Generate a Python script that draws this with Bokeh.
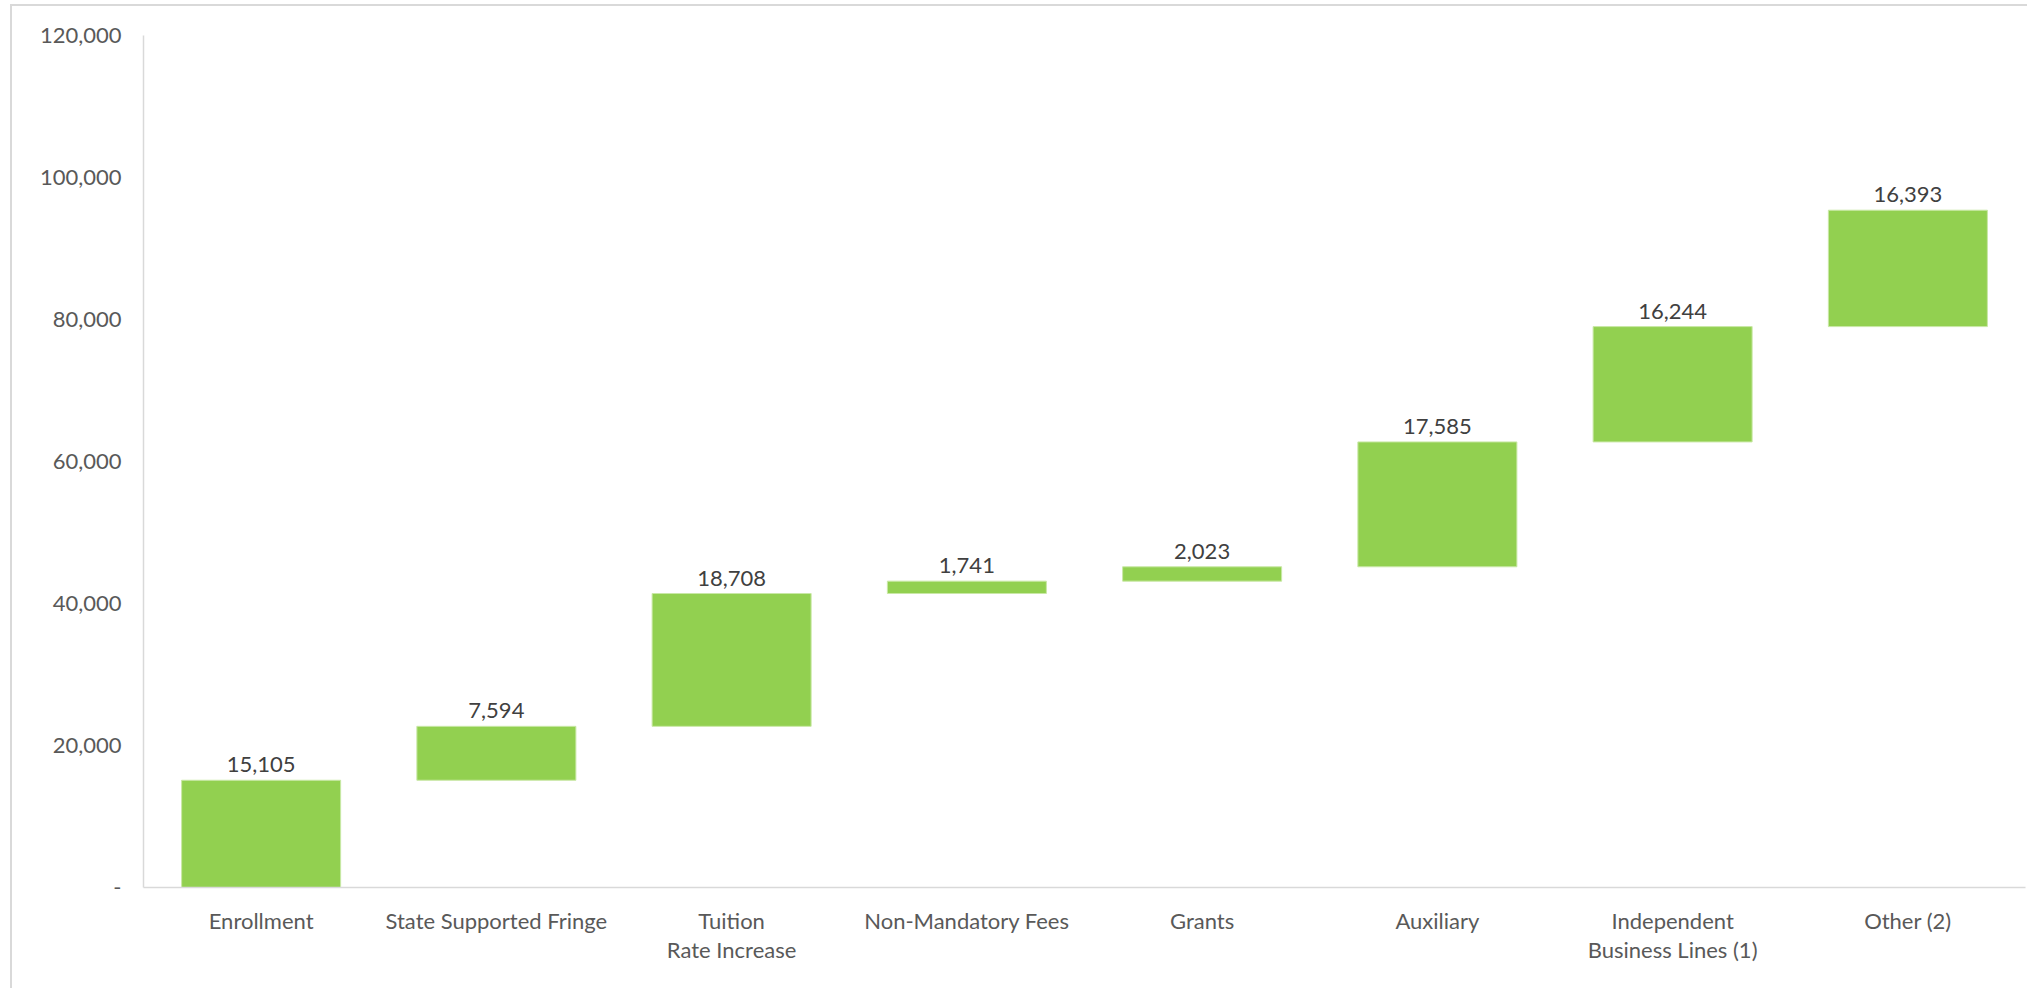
import numpy as np
from bokeh.plotting import figure
from bokeh.models import ColumnDataSource, FixedTicker, NumeralTickFormatter, Range1d, FactorRange
from bokeh.core.properties import value
from bokeh.embed import file_html
from bokeh.resources import INLINE

categories = ["Enrollment", "State Supported Fringe", "Tuition\nRate Increase",
              "Non-Mandatory Fees", "Grants", "Auxiliary",
              "Independent\nBusiness Lines (1)", "Other (2)"]
increments = [15105, 7594, 18708, 1741, 2023, 17585, 16244, 16393]
value_labels = ["15,105", "7,594", "18,708", "1,741", "2,023", "17,585", "16,244", "16,393"]
y_ticks = [0, 20000, 40000, 60000, 80000, 100000, 120000]

tops = np.cumsum(increments)
bottoms = tops - np.array(increments)

src = ColumnDataSource(dict(x=categories, bottom=bottoms, top=tops, label=value_labels))

FONT = "Lato"

p = figure(x_range=FactorRange(*categories), y_range=Range1d(0, 120000),
           width=2017, height=984, output_backend="svg", toolbar_location=None,
           min_border_left=131, min_border_right=4, min_border_top=29, min_border_bottom=103)
p.x_range.range_padding = 0
p.x_range.factor_padding = 0

p.vbar(x="x", bottom="bottom", top="top", width=0.676, source=src,
       fill_color="#92D050", line_color="#c9e8a6", line_width=1)

p.text(x="x", y="top", text="label", source=src, text_align="center",
       text_baseline="bottom", y_offset=-8, text_font=value(FONT),
       text_font_size="22px", text_color="#404040")

p.xgrid.visible = False
p.ygrid.visible = False
p.outline_line_color = None
p.background_fill_color = "white"
p.border_fill_color = "white"

ya = p.yaxis[0]
ya.ticker = FixedTicker(ticks=y_ticks)
ya.formatter = NumeralTickFormatter(format="0,0")
ya.major_label_overrides = {0: "-"}
ya.axis_line_color = "#d9d9d9"
ya.axis_line_width = 1.5
ya.major_tick_line_color = None
ya.minor_tick_line_color = None
ya.major_label_standoff = 16
ya.major_label_text_font = FONT
ya.major_label_text_font_size = "22px"
ya.major_label_text_color = "#595959"

xa = p.xaxis[0]
xa.axis_line_color = "#d9d9d9"
xa.axis_line_width = 1.5
xa.major_tick_line_color = None
xa.minor_tick_line_color = None
xa.major_label_standoff = 13
xa.major_label_text_font = FONT
xa.major_label_text_font_size = "22px"
xa.major_label_text_color = "#595959"
xa.major_label_text_line_height = 1.1

p.styles = {"border-left": "2px solid #d9d9d9", "border-top": "2px solid #d9d9d9",
            "margin-left": "10px", "margin-top": "4px"}

open("out.html", "w").write(file_html(p, INLINE))
